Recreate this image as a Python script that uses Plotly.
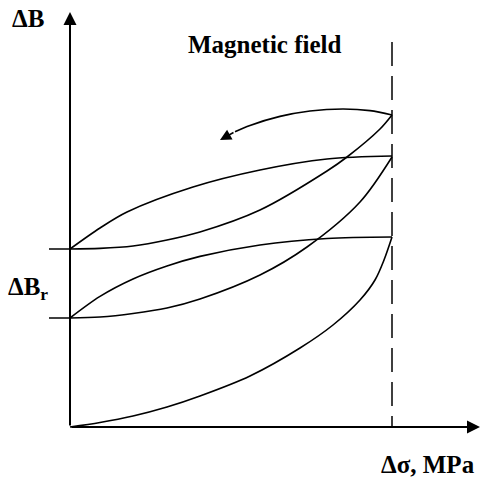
import plotly.graph_objects as go

# Schematic values (drawing units: stress axis 0..322 at the dashed limit, induction axis 0..415)
init_x = [0, 30, 63, 97, 130, 180, 230, 263, 290, 305, 314, 322]
init_y = [0, 4.5, 11, 20, 31, 51, 79, 102, 127, 147, 167, 190]

unload1_x = [322, 257, 190, 130, 97, 63, 30, 0]
unload1_y = [190, 188.5, 182, 170.6, 161, 148, 130.6, 109]

reload1_x = [0, 30, 63, 97, 130, 190, 237, 290, 322]
reload1_y = [109, 110, 113.5, 119, 128, 152, 180, 225, 270]

unload2_x = [322, 257, 190, 123, 57, 30, 0]
unload2_y = [271, 268, 257, 240, 215, 199, 178]

reload2_x = [0, 30, 63, 97, 130, 190, 257, 277, 310, 322]
reload2_y = [178, 178.6, 181, 187, 195, 217, 256, 270, 298, 312]

field_x = [322, 300, 273, 240, 210, 180, 165]
field_y = [312, 316.4, 318, 316, 310.6, 301.6, 295.3]
field_tip = (150, 287)

limit_x = 322
limit_top = 385
remanent_levels = [109, 178]
axis_x_end = 410
axis_y_end = 415

labels = {
    "dB": "<b>ΔB</b>",
    "field": "<b>Magnetic field</b>",
    "dBr": "<b>ΔB<sub>r</sub></b>",
    "dsigma": "<b>Δσ, MPa</b>",
}

FONT = "Liberation Serif, Times New Roman, serif"
LW = 1.6

fig = go.Figure()

for xs, ys in [(init_x, init_y), (unload1_x, unload1_y), (reload1_x, reload1_y),
               (unload2_x, unload2_y), (reload2_x, reload2_y), (field_x, field_y)]:
    fig.add_trace(go.Scatter(x=xs, y=ys, mode="lines",
                             line=dict(color="black", width=LW, shape="spline", smoothing=0.9),
                             hoverinfo="skip", showlegend=False))

# dashed limit line
fig.add_trace(go.Scatter(x=[limit_x, limit_x], y=[limit_top, 0], mode="lines",
                         line=dict(color="black", width=1.5, dash="24px,10px"),
                         hoverinfo="skip", showlegend=False))

# remanent level stubs
for lv in remanent_levels:
    fig.add_trace(go.Scatter(x=[-21, 0], y=[lv, lv], mode="lines",
                             line=dict(color="black", width=1.5),
                             hoverinfo="skip", showlegend=False))

annotations = []
# axes with arrowheads
annotations.append(dict(x=0, y=axis_y_end, ax=0, ay=0, xref="x", yref="y", axref="x", ayref="y",
                        showarrow=True, arrowhead=2, arrowsize=1.3, arrowwidth=2, arrowcolor="black", text=""))
annotations.append(dict(x=axis_x_end, y=0, ax=0, ay=0, xref="x", yref="y", axref="x", ayref="y",
                        showarrow=True, arrowhead=2, arrowsize=1.3, arrowwidth=2, arrowcolor="black", text=""))
# field arrowhead
annotations.append(dict(x=field_tip[0], y=field_tip[1], ax=field_x[-1], ay=field_y[-1],
                        xref="x", yref="y", axref="x", ayref="y",
                        showarrow=True, arrowhead=2, arrowsize=1.4, arrowwidth=1.6, arrowcolor="black", text=""))

tf = dict(family=FONT, size=25, color="black")
annotations.append(dict(x=-42, y=409, xref="x", yref="y", text=labels["dB"], showarrow=False, font=tf))
annotations.append(dict(x=195, y=383, xref="x", yref="y", text=labels["field"], showarrow=False, font=tf))
annotations.append(dict(x=-42, y=139, xref="x", yref="y", text=labels["dBr"], showarrow=False, font=tf))
annotations.append(dict(x=358, y=-37, xref="x", yref="y", text=labels["dsigma"], showarrow=False, font=tf))

fig.update_layout(
    width=482, height=478,
    margin=dict(l=0, r=0, t=0, b=0),
    paper_bgcolor="white", plot_bgcolor="white",
    xaxis=dict(range=[-70, 412], visible=False, fixedrange=True),
    yaxis=dict(range=[-51, 427], visible=False, fixedrange=True),
    annotations=annotations,
    showlegend=False,
)

fig.write_html("out.html")
